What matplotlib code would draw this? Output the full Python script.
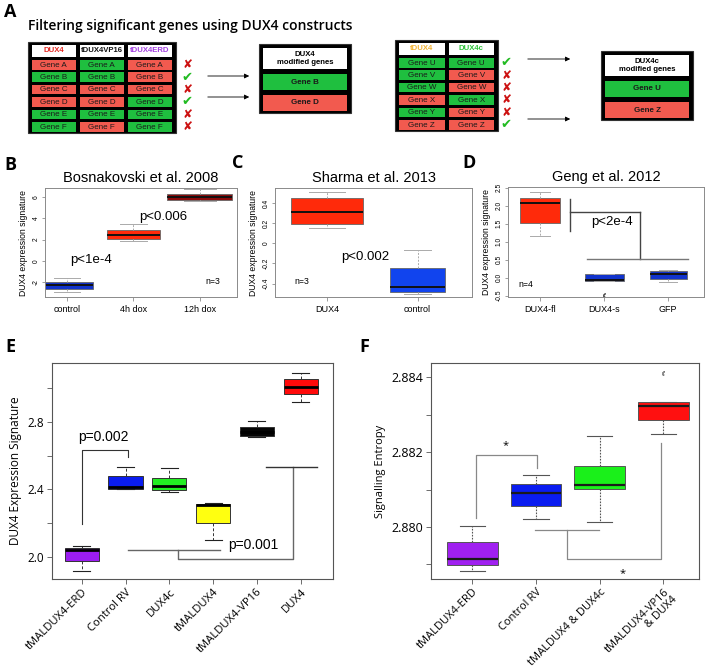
import matplotlib
matplotlib.use("Agg")
import matplotlib.pyplot as plt
from matplotlib.patches import Rectangle
from matplotlib.ticker import FixedLocator, FuncFormatter

W, H = 708, 672
fig = plt.figure(figsize=(W / 100, H / 100), dpi=100)

SANS = ["Liberation Sans", "DejaVu Sans"]
OPEN = ["Open Sans", "DejaVu Sans"]

# ---------------- data ----------------
# panel A schematic
tbl1_headers = ["DUX4", "tDUX4VP16", "tDUX4ERD"]
tbl1_header_colors = ["#e52620", "#111111", "#a23fe0"]
tbl1_genes = ["Gene A", "Gene B", "Gene C", "Gene D", "Gene E", "Gene F"]
tbl1_status = [["r", "g", "r"], ["g", "g", "r"], ["r", "r", "r"],
               ["r", "r", "g"], ["g", "g", "g"], ["g", "r", "g"]]
tbl1_marks = ["x", "v", "x", "v", "x", "x"]
res1_title = "DUX4\nmodified genes"
res1_genes = ["Gene B", "Gene D"]
res1_status = ["g", "r"]

tbl2_headers = ["tDUX4", "DUX4c"]
tbl2_header_colors = ["#f2b233", "#2fc23a"]
tbl2_genes = ["Gene U", "Gene V", "Gene W", "Gene X", "Gene Y", "Gene Z"]
tbl2_status = [["g", "g"], ["g", "r"], ["g", "r"], ["r", "g"], ["g", "r"], ["r", "r"]]
tbl2_marks = ["v", "x", "x", "x", "x", "v"]
res2_title = "DUX4c\nmodified genes"
res2_genes = ["Gene U", "Gene Z"]
res2_status = ["g", "r"]

# panel B  (whislo, q1, med, q3, whishi)
b_labels = ["control", "4h dox", "12h dox"]
b_stats = [(-2.95, -2.63, -2.30, -2.00, -1.59),
           (1.90, 2.10, 2.47, 2.90, 3.49),
           (5.65, 5.75, 6.00, 6.25, 6.76)]
b_colors = ["#1133cc", "#ff2a0a", "#8a0a0a"]

# panel C
c_labels = ["DUX4", "control"]
c_stats = [(0.157, 0.19, 0.307, 0.45, 0.51),
           (-0.503, -0.483, -0.437, -0.243, -0.067)]
c_colors = ["#ff2a0a", "#1144ee"]

# panel D
d_labels = ["DUX4-fl", "DUX4-s", "GFP"]
d_stats = [(1.16, 1.53, 2.07, 2.21, 2.38),
           (-0.09, -0.09, -0.07, 0.09, 0.11),
           (-0.12, -0.03, 0.09, 0.18, 0.20)]
d_fliers = [[], [-0.48], []]
d_colors = ["#ff2a0a", "#1133cc", "#1133cc"]

# panel E
e_labels = ["tMALDUX4-ERD", "Control RV", "DUX4c", "tMALDUX4", "tMALDUX4-VP16", "DUX4"]
e_stats = [(1.917, 1.978, 2.039, 2.053, 2.063),
           (2.401, 2.401, 2.413, 2.476, 2.535),
           (2.383, 2.395, 2.417, 2.466, 2.525),
           (2.102, 2.204, 2.309, 2.314, 2.318),
           (2.708, 2.716, 2.741, 2.771, 2.806),
           (2.918, 2.961, 3.006, 3.050, 3.089)]
e_colors = ["#9b1df0", "#0a1cf0", "#22ee22", "#ffff10", "#050505", "#ff0a0a"]

# panel F
f_labels = ["tMALDUX4-ERD", "Control RV", "tMALDUX4 & DUX4c", "tMALDUX4-VP16\n& DUX4"]
f_stats = [(2.87883, 2.87899, 2.87915, 2.87959, 2.88002),
           (2.88021, 2.88057, 2.88091, 2.88114, 2.88138),
           (2.88012, 2.88102, 2.88113, 2.88162, 2.88242),
           (2.88249, 2.88285, 2.88324, 2.88333, 2.88333)]
f_fliers = [[], [], [], [2.88410]]
f_colors = ["#a020f0", "#0a1cf0", "#1af01a", "#ff1010"]


def rect(x0, y0, x1, y1):
    return [x0 / W, 1 - y1 / H, (x1 - x0) / W, (y1 - y0) / H]


def stats_list(vals, fliers=None):
    out = []
    for i, (lo, q1, med, q3, hi) in enumerate(vals):
        out.append(dict(whislo=lo, q1=q1, med=med, q3=q3, whishi=hi,
                        fliers=(fliers[i] if fliers else [])))
    return out


CELL = {"g": "#1fbf3f", "r": "#f25a4f"}

# ---------------- panel A ----------------
axA = fig.add_axes([0, 1 - 160 / H, 1, 160 / H])
axA.set_xlim(0, W)
axA.set_ylim(160, 0)
axA.axis("off")
axA.text(4, 12, "A", fontsize=13, fontweight="bold", family=OPEN, va="center")
axA.text(28, 26, "Filtering significant genes using DUX4 constructs", fontsize=10,
         fontweight="semibold", family=OPEN, va="center")


def draw_table(x0, y_top, col_w, col_gap, headers, hcolors, genes, status, marks,
               head_h, row_h, row_pitch, mark_x):
    ncol = len(headers)
    x1 = x0 + 4 + ncol * col_w + (ncol - 1) * col_gap + 4
    y1 = y_top + 3 + head_h + 2 + len(genes) * row_pitch
    axA.add_patch(Rectangle((x0, y_top), x1 - x0, y1 - y_top, fc="black", ec="#333333", lw=0.8))
    for j in range(ncol):
        cx = x0 + 4 + j * (col_w + col_gap)
        axA.add_patch(Rectangle((cx, y_top + 3), col_w, head_h, fc="white", lw=0))
        axA.text(cx + col_w / 2, y_top + 3 + head_h / 2, headers[j], color=hcolors[j],
                 fontsize=5.6, fontweight="bold", ha="center", va="center", family=SANS)
        for i, g in enumerate(genes):
            ry = y_top + 3 + head_h + 3 + i * row_pitch
            axA.add_patch(Rectangle((cx, ry), col_w, row_h, fc=CELL[status[i][j]], lw=0))
            axA.text(cx + col_w / 2, ry + row_h / 2 + 0.3, g, color="#1a1a1a", fontsize=5.8,
                     ha="center", va="center", family=SANS)
    for i, m in enumerate(marks):
        ry = y_top + 3 + head_h + 3 + i * row_pitch + row_h / 2
        if m == "v":
            axA.text(mark_x, ry, "\u2714", color="#22bb22", fontsize=9.5, ha="center",
                     va="center", family=["DejaVu Sans"])
        else:
            axA.text(mark_x, ry, "\u2718", color="#cc1111", fontsize=8.5, ha="center",
                     va="center", family=["DejaVu Sans"])


def draw_result(x0, y0, x1, head_h, box_h, gap, title, genes, status):
    y1 = y0 + 4 + head_h + len(genes) * (box_h + gap) + 2
    axA.add_patch(Rectangle((x0, y0), x1 - x0, y1 - y0, fc="black", ec="#333333", lw=0.8))
    axA.add_patch(Rectangle((x0 + 4, y0 + 4), x1 - x0 - 8, head_h, fc="white", lw=0))
    axA.text((x0 + x1) / 2, y0 + 4 + head_h / 2, title, fontsize=5.6, fontweight="bold",
             ha="center", va="center", family=SANS, linespacing=1.3)
    for i, g in enumerate(genes):
        gy = y0 + 4 + head_h + gap + i * (box_h + gap)
        axA.add_patch(Rectangle((x0 + 4, gy), x1 - x0 - 8, box_h, fc=CELL[status[i]], lw=0))
        axA.text((x0 + x1) / 2, gy + box_h / 2, g, fontsize=5.8, fontweight="bold",
                 color="#1a1a1a", ha="center", va="center", family=SANS)
    return y1


draw_table(28, 42, 43.5, 4.5, tbl1_headers, tbl1_header_colors, tbl1_genes, tbl1_status,
           tbl1_marks, 12, 9.5, 12.4, 187)
for yy in (76, 97):
    axA.annotate("", xy=(252, yy), xytext=(205, yy),
                 arrowprops=dict(arrowstyle="-|>", color="black", lw=0.6, mutation_scale=7))
draw_result(259, 44, 351, 21, 16, 5, res1_title, res1_genes, res1_status)

draw_table(395, 40, 45.5, 4, tbl2_headers, tbl2_header_colors, tbl2_genes, tbl2_status,
           tbl2_marks, 12, 9.5, 12.4, 506)
for yy in (59, 119):
    axA.annotate("", xy=(573, yy), xytext=(525, yy),
                 arrowprops=dict(arrowstyle="-|>", color="black", lw=0.6, mutation_scale=7))
draw_result(601, 51, 693, 21, 16, 5, res2_title, res2_genes, res2_status)


# ---------------- panels B-D (R style) ----------------
def r_axes(box, xlim, ylim, yticks, labels, title, ylabel, letter, letter_xy):
    ax = fig.add_axes(rect(*box))
    ax.set_xlim(*xlim)
    ax.set_ylim(*ylim)
    for s in ax.spines.values():
        s.set_color("#8a8a8a")
        s.set_linewidth(0.7)
    ax.set_yticks(yticks)
    ax.yaxis.set_major_formatter(FuncFormatter(lambda v, p: ("%g" % v).replace("\u2212", "-")))
    ax.tick_params(axis="y", labelsize=4.8, length=2.5, width=0.5, color="#777777",
                   pad=1.5, labelrotation=90)
    for t in ax.get_yticklabels():
        t.set_va("center")
        t.set_family(SANS)
    ax.set_xticks(range(1, len(labels) + 1))
    ax.set_xticklabels(labels, fontsize=6.5, family=SANS)
    ax.tick_params(axis="x", length=3, width=0.5, color="#777777", pad=2.5)
    ax.set_title(title, fontsize=10.5, family=SANS, pad=4)
    ax.set_ylabel(ylabel, fontsize=6.2, family=SANS, labelpad=3)
    fig.text(letter_xy[0] / W, 1 - letter_xy[1] / H, letter, fontsize=13,
             fontweight="bold", family=OPEN, va="center")
    return ax


def r_box(ax, stats, colors, widths, fliers=None):
    bp = ax.bxp(stats_list(stats, fliers), positions=range(1, len(stats) + 1), widths=widths,
                patch_artist=True, showfliers=True, manage_ticks=False,
                boxprops=dict(edgecolor="#666666", linewidth=0.6),
                medianprops=dict(color="#111111", linewidth=1.4),
                whiskerprops=dict(color="#aaaaaa", linestyle=(0, (2, 1.5)), linewidth=0.7),
                capprops=dict(color="#aaaaaa", linewidth=0.7),
                flierprops=dict(marker="$\u02bf$", markersize=3, markeredgewidth=0.3,
                                color="#333333", markerfacecolor="#333333",
                                markeredgecolor="#333333"))
    for patch, c in zip(bp["boxes"], colors):
        patch.set_facecolor(c)
    return bp


axB = r_axes((45, 188, 237, 297), (0.67, 3.56), (-3.4, 6.85), [-2, 0, 2, 4, 6], b_labels,
             "Bosnakovski et al. 2008", "DUX4 expression signature", "B", (4, 165))
r_box(axB, b_stats, b_colors, [0.78, 0.8, 0.98])
axB.text(1.36, 0.05, "p<1e-4", fontsize=9.5, family=SANS, ha="center", va="center")
axB.text(2.45, 4.15, "p<0.006", fontsize=9.5, family=SANS, ha="center", va="center")
axB.text(3.2, -1.9, "n=3", fontsize=6.3, family=SANS, ha="center", va="center")

axC = r_axes((275, 188, 472, 297), (0.427, 2.6), (-0.533, 0.55),
             [-0.4, -0.2, 0.0, 0.2, 0.4], c_labels,
             "Sharma et al. 2013", "DUX4 expression signature", "C", (232, 163))
r_box(axC, c_stats, c_colors, [0.8, 0.6])
axC.text(1.42, -0.14, "p<0.002", fontsize=9.5, family=SANS, ha="center", va="center")
axC.text(0.72, -0.38, "n=3", fontsize=6.3, family=SANS, ha="center", va="center")

axD = r_axes((508, 187, 704, 297), (0.5, 3.56), (-0.54, 2.52),
             [-0.5, 0.0, 0.5, 1.0, 1.5, 2.0, 2.5], d_labels,
             "Geng et al. 2012", "DUX4 expression signature", "D", (462, 163))
axD.yaxis.set_major_formatter(FuncFormatter(lambda v, p: "%.1f" % v))
r_box(axD, d_stats, d_colors, [0.62, 0.61, 0.58], d_fliers)
# bracket: DUX4-fl vs (DUX4-s, GFP)
d_hi, d_lo = 1.83, 0.51
axD.plot([1.47, 1.47], [1.3, 2.2], color="#444444", lw=1.0)
axD.plot([1.47, 2.56], [d_hi, d_hi], color="#444444", lw=1.0)
axD.plot([2.56, 2.56], [d_hi, d_lo], color="#444444", lw=1.0)
axD.plot([1.73, 3.31], [d_lo, d_lo], color="#777777", lw=1.0)
axD.text(2.12, 1.55, "p<2e-4", fontsize=9.5, family=SANS, ha="center", va="center")
axD.text(0.78, -0.2, "n=4", fontsize=6.3, family=SANS, ha="center", va="center")


# ---------------- panels E-F ----------------
def box_axes(box, xlim, ylim, major, minor, labels, ylabel, letter, letter_xy,
             ytick_size, xlab_size, ylab_size):
    ax = fig.add_axes(rect(*box))
    ax.set_xlim(*xlim)
    ax.set_ylim(*ylim)
    for s in ax.spines.values():
        s.set_color("#555555")
        s.set_linewidth(0.8)
    ax.set_yticks(major)
    ax.yaxis.set_minor_locator(FixedLocator(minor))
    ax.tick_params(axis="y", which="both", length=3.5, width=0.6, color="#555555",
                   labelsize=ytick_size, pad=2)
    ax.set_xticks(range(1, len(labels) + 1))
    ax.set_xticklabels(labels, rotation=45, ha="right", rotation_mode="anchor",
                       fontsize=xlab_size, family=OPEN, linespacing=1.0)
    ax.tick_params(axis="x", length=3.5, width=0.6, color="#555555", pad=2)
    for t in ax.get_yticklabels():
        t.set_family(OPEN)
    ax.set_ylabel(ylabel, fontsize=ylab_size, family=OPEN, labelpad=4)
    fig.text(letter_xy[0] / W, 1 - letter_xy[1] / H, letter, fontsize=13,
             fontweight="bold", family=OPEN, va="center")
    return ax


axE = box_axes((52, 363, 333, 579), (0.32, 6.74), (1.87, 3.147), [2.0, 2.4, 2.8],
               [2.2, 2.6, 3.0], e_labels, "DUX4 Expression Signature", "E", (5, 347),
               8.5, 8.1, 8.5)
axE.yaxis.set_major_formatter(FuncFormatter(lambda v, p: "%.1f" % v))
bpE = axE.bxp(stats_list(e_stats), positions=range(1, 7), widths=0.78, patch_artist=True,
              manage_ticks=False,
              boxprops=dict(edgecolor="#333333", linewidth=0.7),
              medianprops=dict(color="black", linewidth=2.0),
              whiskerprops=dict(color="#333333", linestyle=(0, (3, 2)), linewidth=0.7),
              capprops=dict(color="#222222", linewidth=0.8))
for patch, c in zip(bpE["boxes"], e_colors):
    patch.set_facecolor(c)
br = "#666666"
e_top, e_mid, e_low, e_right = 2.633, 2.039, 1.988, 2.535
axE.plot([1, 1, 2.05, 2.05], [2.197, e_top, e_top, 2.594], color="#333333", lw=0.8)
axE.text(1.5, 2.71, "p=0.002", fontsize=10, family=SANS, ha="center", va="center")
axE.plot([2.05, 4.15], [e_mid, e_mid], color=br, lw=1.0)
axE.plot([3.2, 3.2, 5.83, 5.83], [e_mid, e_low, e_low, e_right], color=br, lw=1.0)
axE.plot([5.22, 6.37], [e_right, e_right], color="#333333", lw=1.0)
axE.text(4.93, 2.07, "p=0.001", fontsize=10, family=SANS, ha="center", va="center")

axF = box_axes((431, 363, 699, 579), (0.35, 4.56), (2.87861, 2.88438),
               [2.880, 2.882, 2.884], [2.879, 2.881, 2.883], f_labels,
               "Signalling Entropy", "F", (359, 347), 9, 8, 8)
axF.yaxis.set_major_formatter(FuncFormatter(lambda v, p: "%.3f" % v))
bpF = axF.bxp(stats_list(f_stats, f_fliers), positions=range(1, 5), widths=0.8,
              patch_artist=True, manage_ticks=False,
              boxprops=dict(edgecolor="#555555", linewidth=0.7),
              medianprops=dict(color="#1a1a1a", linewidth=1.6),
              whiskerprops=dict(color="#555555", linestyle=(0, (1.5, 1.2)), linewidth=0.8),
              capprops=dict(color="#555555", linewidth=0.8),
              flierprops=dict(marker="$\u02bf$", markersize=3, color="#333333",
                              markeredgewidth=0.3))
for patch, c in zip(bpF["boxes"], f_colors):
    patch.set_facecolor(c)
f_top, f_mid, f_low = 2.88192, 2.87991, 2.87914
axF.plot([1.06, 1.06, 2.02, 2.02], [2.88024, f_top, f_top, 2.88158], color="#888888", lw=0.9)
axF.text(1.52, 2.88218, "*", fontsize=8, family=OPEN, ha="center", va="center")
axF.plot([1.98, 2.99], [f_mid, f_mid], color="#888888", lw=0.9)
axF.plot([2.49, 2.49, 3.96, 3.96], [f_mid, f_low, f_low, 2.88224], color="#888888", lw=0.9)
axF.text(3.36, 2.87875, "*", fontsize=8, family=OPEN, ha="center", va="center")

fig.savefig("out.png", dpi=100)
